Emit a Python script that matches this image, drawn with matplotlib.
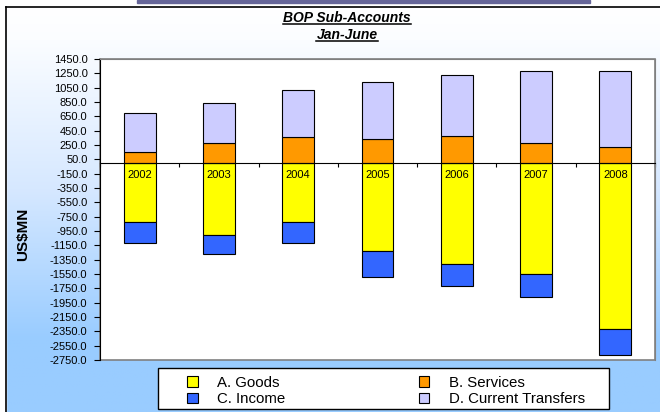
"""BOP sub-accounts, Jan-June, stacked bars by year."""

import matplotlib

matplotlib.use("Agg")
import matplotlib.pyplot as plt
import numpy as np
from matplotlib.colors import LinearSegmentedColormap
from matplotlib.lines import Line2D
from matplotlib.patches import Patch, Rectangle

plt.rcParams["font.family"] = ["Liberation Sans", "DejaVu Sans"]

years = ["2002", "2003", "2004", "2005", "2006", "2007", "2008"]
goods = [-819, -1006, -820, -1229, -1406, -1555, -2323]
services = [158, 275, 368, 340, 372, 279, 223]
income = [-293, -269, -292, -359, -316, -316, -359]
transfers = [535, 567, 652, 787, 857, 1001, 1057]

series_names = ["A. Goods", "B. Services", "C. Income", "D. Current Transfers"]
series_colors = ["#FFFF00", "#FF9900", "#3366FF", "#CCCCFF"]

y_ticks = np.arange(-2750, 1451, 200)

W, H = 660, 412


def fx(px):
    return px / W


def fy(py):
    return 1 - py / H


fig = plt.figure(figsize=(W / 100, H / 100), dpi=100)

# background gradient, white at the top to light blue near the bottom
bg = fig.add_axes([0, 0, 1, 1], zorder=-10)
bg.set_axis_off()
grad = np.tile(np.linspace(0, 1, 256)[:, None], (1, 4))
cmap = LinearSegmentedColormap.from_list(
    "bgblue", [(0.0, "#FFFFFF"), (0.08, "#FBFDFF"), (0.45, "#D6E8FF"),
               (0.82, "#99CCFF"), (1.0, "#99CCFF")])
bg.imshow(grad, aspect="auto", cmap=cmap, extent=[fx(6), 1, 0, fy(7)], origin="upper")
bg.set_xlim(0, 1)
bg.set_ylim(0, 1)
bg.add_patch(Rectangle((0, fy(7)), 1, 1, color="white", zorder=0))
bg.add_patch(Rectangle((0, 0), fx(6), fy(7), color="white", zorder=0))
bg.add_patch(Rectangle((fx(137), fy(3)), fx(590) - fx(137), fy(0) - fy(3), color="#666699"))
bg.add_line(Line2D([fx(6), 1], [fy(7), fy(7)], color="black", lw=1.2))
bg.add_line(Line2D([fx(6), fx(6)], [fy(7), 0], color="black", lw=1.2))

ax = fig.add_axes([fx(100), fy(360), fx(655) - fx(100), fy(59) - fy(360)])
x = np.arange(len(years))
width = 0.4
edge = dict(edgecolor="black", linewidth=0.8)

ax.bar(x, goods, width, color=series_colors[0], **edge)
ax.bar(x, income, width, bottom=goods, color=series_colors[2], **edge)
ax.bar(x, services, width, color=series_colors[1], **edge)
ax.bar(x, transfers, width, bottom=services, color=series_colors[3], **edge)

for xi, year in zip(x, years):
    ax.annotate(year, (xi, 0), xytext=(0, -5), textcoords="offset points",
                ha="center", va="top", fontsize=8)

ax.set_xlim(-0.5, len(years) - 0.5)
ax.set_ylim(-2750, 1450)
ax.set_yticks(y_ticks)
ax.set_yticklabels([f"{v:.1f}" for v in y_ticks], fontsize=8)
ax.set_xticks(np.arange(-0.5, len(years), 1.0))
ax.set_xticklabels([])
ax.tick_params(axis="y", length=4, width=0.8, pad=5)
ax.tick_params(axis="x", length=3, width=0.8, direction="out")

ax.spines["bottom"].set_position(("data", 0))
ax.spines["bottom"].set_color("black")
ax.spines["left"].set_color("black")
for side in ["top", "right"]:
    ax.spines[side].set_color("#808080")
ax.add_patch(Rectangle((0, 0), 1, 1, transform=ax.transAxes, fill=False,
                       edgecolor="#808080", lw=1.2, zorder=-1, clip_on=False))

fig.text(fx(23), fy(234), "US$MN", rotation=90, ha="center", va="center",
         fontsize=11, fontweight="bold")

titles = [fig.text(fx(347), fy(18), "BOP Sub-Accounts", ha="center", va="center",
                   fontsize=10, fontweight="bold", fontstyle="italic"),
          fig.text(fx(347), fy(35), "Jan-June", ha="center", va="center",
                   fontsize=10, fontweight="bold", fontstyle="italic")]
fig.canvas.draw()
renderer = fig.canvas.get_renderer()
for txt in titles:
    bb = txt.get_window_extent(renderer).transformed(fig.transFigure.inverted())
    fig.add_artist(Line2D([bb.x0, bb.x1], [bb.y0 + 0.002, bb.y0 + 0.002],
                          transform=fig.transFigure, color="black", lw=1.1))

# legend box with entries inside
fig.add_artist(Rectangle((fx(158), fy(409)), fx(609) - fx(158), fy(368) - fy(409),
                         transform=fig.transFigure, facecolor="white",
                         edgecolor="black", lw=1))
order = [0, 2, 1, 3]
handles = [Patch(facecolor=series_colors[i], edgecolor="black", lw=0.8) for i in order]
labels = [series_names[i] for i in order]
fig.legend(handles, labels, ncol=2, loc="lower left", mode="expand",
           bbox_to_anchor=(fx(187), fy(406), fx(585) - fx(187), fy(371) - fy(406)),
           frameon=False, fontsize=10.8, handlelength=0.7, handleheight=0.7,
           handletextpad=1.3, labelspacing=0.15, borderpad=0, borderaxespad=0)

fig.savefig("out.png", dpi=100)
